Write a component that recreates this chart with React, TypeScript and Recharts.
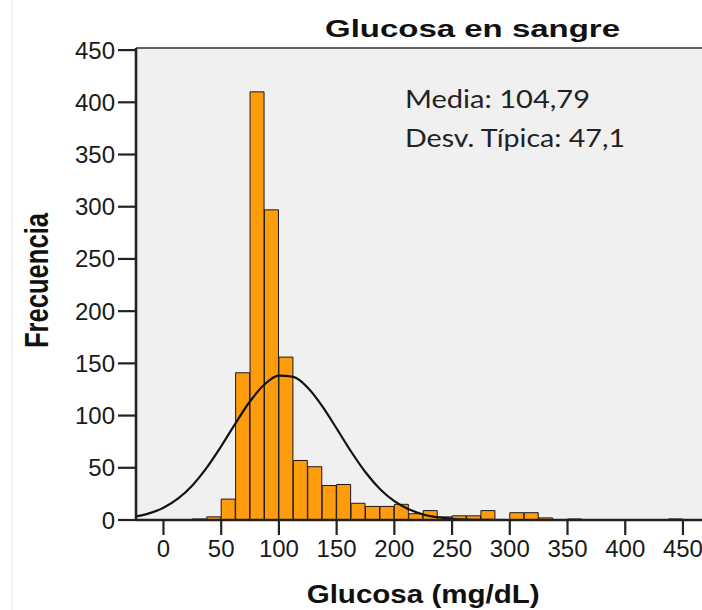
import React from "react";
import {
  ComposedChart,
  Bar,
  Line,
  XAxis,
  YAxis,
  CartesianGrid,
  ReferenceLine,
} from "recharts";

// histogram bins: 12.5 mg/dL wide, keyed by bin centre
const binCenters = [
  31.25, 43.75, 56.25, 68.75, 81.25, 93.75, 106.25, 118.75, 131.25, 143.75,
  156.25, 168.75, 181.25, 193.75, 206.25, 218.75, 231.25, 243.75, 256.25,
  268.75, 281.25, 293.75, 306.25, 318.75, 331.25, 343.75, 356.25, 368.75,
  381.25, 393.75, 406.25, 418.75, 431.25, 443.75,
];
const binCounts = [
  1, 3, 20, 141, 410, 297, 156, 57, 51, 33, 34, 16, 13, 13, 15, 6, 9, 3, 4, 4,
  9, 0, 7, 7, 2, 0, 1, 0, 0, 0, 0, 0, 0, 1,
];

// normal curve
const curveX = [
  -23.75, -12.5, 0, 12.5, 25, 37.5, 50, 62.5, 75, 87.5, 100, 112.5, 125, 137.5,
  150, 162.5, 175, 187.5, 200, 212.5, 225, 237.5, 250, 262.5, 275, 300, 466.5,
];
const curveY = [
  3.4, 6.3, 11.7, 20.4, 33.1, 50.1, 70.6, 92.8, 113.7, 129.8, 138.2, 137.0,
  126.7, 109.1, 87.6, 65.6, 45.7, 29.7, 18.0, 10.2, 5.3, 2.6, 1.2, 0.5, 0.2, 0,
  0,
];

const xTicks = [0, 50, 100, 150, 200, 250, 300, 350, 400, 450];
const yTicks = [0, 50, 100, 150, 200, 250, 300, 350, 400, 450];

const bins = binCenters.map((x, i) => ({ x, count: binCounts[i] }));
const curve = curveX.map((x, i) => ({ x, freq: curveY[i] }));

const AXIS = "#222";
const FONT = "'Liberation Sans', Arial, sans-serif";
const X_DOMAIN: [number, number] = [-23.8, 466.5];

export default function App() {
  return (
    <div
      style={{
        position: "absolute",
        left: 0,
        top: 0,
        width: 702,
        height: 610,
        background: "#fff",
        overflow: "hidden",
      }}
    >
      <ComposedChart
        width={702}
        height={610}
        data={bins}
        margin={{ top: 48, right: 0, bottom: 0, left: 0 }}
        barCategoryGap={0}
        barGap={0}
      >
        <CartesianGrid
          xAxisId="bins"
          fill="#f0f0f0"
          horizontal={false}
          vertical={false}
        />
        <XAxis
          xAxisId="bins"
          dataKey="x"
          type="number"
          domain={X_DOMAIN}
          allowDataOverflow
          ticks={xTicks}
          interval={0}
          height={90}
          tickSize={15}
          tickMargin={5}
          axisLine={{ stroke: AXIS, strokeWidth: 2.6 }}
          tickLine={{ stroke: AXIS, strokeWidth: 2.2 }}
          tick={{ fill: "#1a1a1a", fontSize: 24, fontFamily: FONT }}
        />
        <XAxis
          xAxisId="curve"
          dataKey="x"
          type="number"
          domain={X_DOMAIN}
          allowDataOverflow
          hide
        />
        <YAxis
          domain={[0, 452]}
          allowDataOverflow
          ticks={yTicks}
          interval={0}
          width={136}
          tickSize={18}
          tickMargin={3}
          axisLine={{ stroke: AXIS, strokeWidth: 2.6 }}
          tickLine={{ stroke: AXIS, strokeWidth: 2.2 }}
          tick={{ fill: "#1a1a1a", fontSize: 24, fontFamily: FONT }}
        />
        <ReferenceLine
          xAxisId="bins"
          y={452}
          stroke="#333"
          strokeWidth={1.6}
        />
        <Bar
          xAxisId="bins"
          dataKey="count"
          fill="#ff9c0e"
          stroke="#1a1a1a"
          strokeWidth={1}
          isAnimationActive={false}
        />
        <Line
          xAxisId="curve"
          data={curve}
          dataKey="freq"
          type="monotone"
          stroke="#111"
          strokeWidth={2.2}
          dot={false}
          activeDot={false}
          isAnimationActive={false}
        />
      </ComposedChart>
      <svg
        width={702}
        height={610}
        style={{ position: "absolute", left: 0, top: 0, pointerEvents: "none" }}
      >
        <line x1={12} y1={0} x2={12} y2={610} stroke="#ebebeb" />
        <text
          x={325}
          y={36.7}
          textLength={295}
          lengthAdjust="spacingAndGlyphs"
          fontSize={24.7}
          fontWeight="bold"
          fontFamily={FONT}
          fill="#111"
        >
          Glucosa en sangre
        </text>
        <text
          transform="translate(48, 280.5) rotate(-90) scale(1, 1.3)"
          textAnchor="middle"
          fontSize={25.6}
          fontWeight="bold"
          fontFamily={FONT}
          fill="#111"
        >
          Frecuencia
        </text>
        <text
          x={306.7}
          y={603}
          textLength={233}
          lengthAdjust="spacingAndGlyphs"
          fontSize={25.6}
          fontWeight="bold"
          fontFamily={FONT}
          fill="#111"
        >
          Glucosa (mg/dL)
        </text>
        <text
          x={405}
          y={108.3}
          textLength={185}
          lengthAdjust="spacingAndGlyphs"
          fontSize={24.5}
          fontFamily="Lato, 'Open Sans', sans-serif"
          fill="#222"
        >
          Media: 104,79
        </text>
        <text
          x={405}
          y={146.7}
          textLength={220}
          lengthAdjust="spacingAndGlyphs"
          fontSize={24.5}
          fontFamily="Lato, 'Open Sans', sans-serif"
          fill="#222"
        >
          Desv. Típica: 47,1
        </text>
      </svg>
    </div>
  );
}
